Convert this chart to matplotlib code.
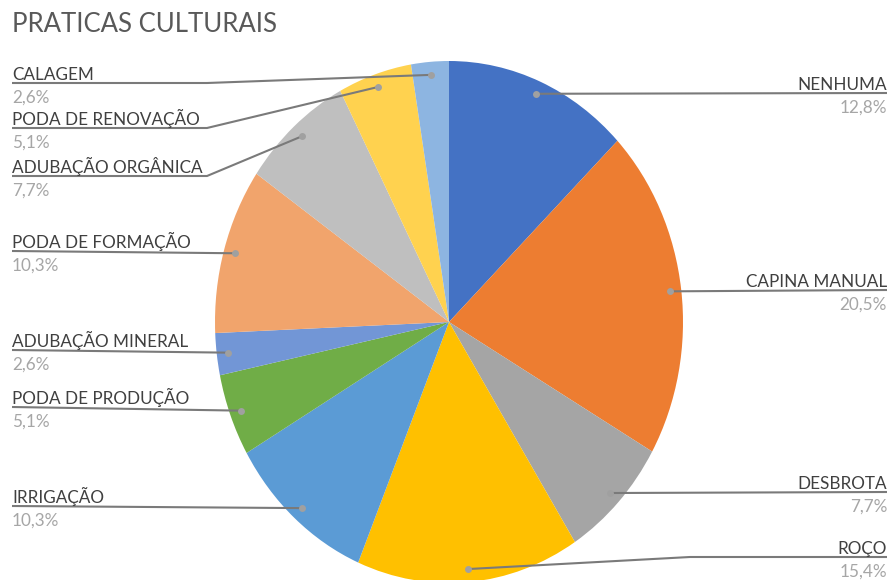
import numpy as np
import matplotlib
matplotlib.use("Agg")
import matplotlib.pyplot as plt

plt.rcParams['font.family'] = ['Lato', 'DejaVu Sans']

# dados: praticas culturais (%)
categorias = ["NENHUMA", "CAPINA MANUAL", "DESBROTA", "ROÇO", "IRRIGAÇÃO",
              "PODA DE PRODUÇÃO", "ADUBAÇÃO MINERAL", "PODA DE FORMAÇÃO",
              "ADUBAÇÃO ORGÂNICA", "PODA DE RENOVAÇÃO", "CALAGEM"]
percentuais = [12.8, 20.5, 7.7, 15.4, 10.3, 5.1, 2.6, 10.3, 7.7, 5.1, 2.6]
cores = ["#4472C4", "#ED7D31", "#A5A5A5", "#FFC000", "#5B9BD5", "#70AD47",
         "#7296D6", "#F1A46C", "#BFBFBF", "#FFD24F", "#8DB5E1"]

# posicao dos rotulos (pixels): lado, y da linha-guia, x do cotovelo
lado = ["dir", "dir", "dir", "dir", "esq", "esq", "esq", "esq", "esq", "esq", "esq"]
linha_y = [93, 290, 492, 557, 506, 407, 350, 251, 176, 128, 83]
cotovelo = [None, None, None, 690, None, None, None, None, 207, 207, 207]

W, H = 891, 580
cx, cy, rx, ry = 449, 322, 234, 261


def px(x, y):
    # pixel (origem no topo) -> coordenadas do grafico
    return (x - cx) / rx, (cy - y) / ry


fig = plt.figure(figsize=(W / 100, H / 100), dpi=100)
ax = fig.add_axes([0, 0, 1, 1])
ax.pie(percentuais, colors=cores, startangle=90, counterclock=False,
       radius=1, wedgeprops=dict(linewidth=0))
ax.set_aspect('auto')
ax.set_xlim(px(0, 0)[0], px(W, 0)[0])
ax.set_ylim(px(0, H)[1], px(0, 0)[1])
ax.axis('off')

frac = np.array(percentuais) / np.sum(percentuais)
meio = np.cumsum(frac) - frac / 2
ang = np.deg2rad(90 - 360 * meio)

cor_linha = "#7A7A7A"
for i, nome in enumerate(categorias):
    dx, dy = 0.95 * np.cos(ang[i]), 0.95 * np.sin(ang[i])
    ly = linha_y[i]
    if lado[i] == "esq":
        x0 = 12
        ha = "left"
    else:
        x0 = 887
        ha = "right"
    pts = [px(x0, ly)]
    if cotovelo[i] is not None:
        pts.append(px(cotovelo[i], ly))
    pts.append((dx, dy))
    xs, ys = zip(*pts)
    ax.plot(xs, ys, color=cor_linha, lw=1.5, solid_capstyle='butt', zorder=3)
    ax.plot(dx, dy, 'o', color="#A0A0A0", ms=5, mec='none', zorder=4)

    tx, ty = px(x0, ly - 3)
    ax.text(tx, ty, nome, ha=ha, va='baseline', fontsize=12.3, color="#404040")
    tx, ty = px(x0, ly + 20)
    ax.text(tx, ty, f"{percentuais[i]:.1f}%".replace(".", ","), ha=ha,
            va='baseline', fontsize=12.3, color="#A6A6A6")

fig.text(12 / W, 1 - 32 / H, "PRATICAS CULTURAIS", ha='left', va='baseline',
         fontsize=18.5, color="#595959")

fig.savefig("out.png", dpi=100)
